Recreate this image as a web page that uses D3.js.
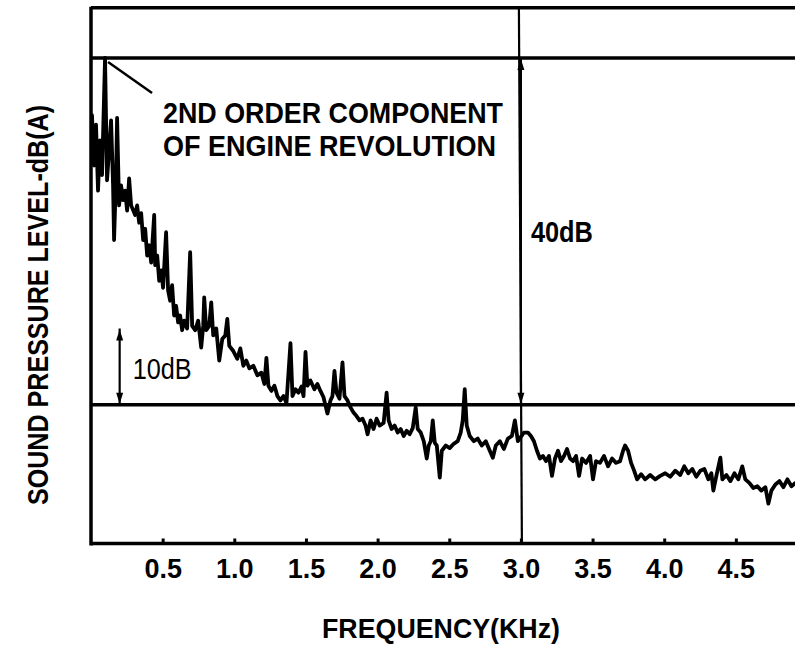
<!DOCTYPE html>
<html>
<head>
<meta charset="utf-8">
<script src="https://cdn.jsdelivr.net/npm/d3@7"></script>
<style>
  html, body { margin: 0; padding: 0; background: #ffffff; }
</style>
</head>
<body>
<div id="chart"></div>
<script>
// spectrum trace: frequency (kHz) and level (dB, relative to the 0 reference line)
const freqKHz = [
  0.007, 0.021, 0.035, 0.049, 0.063, 0.077, 0.098, 0.112, 0.126, 0.140,
  0.154, 0.161, 0.175, 0.182, 0.196, 0.210, 0.224, 0.238, 0.252, 0.266,
  0.280, 0.308, 0.322, 0.336, 0.350, 0.364, 0.378, 0.392, 0.406, 0.420,
  0.441, 0.448, 0.462, 0.476, 0.490, 0.503, 0.524, 0.538, 0.552, 0.566,
  0.580, 0.594, 0.608, 0.622, 0.636, 0.650, 0.671, 0.692, 0.706, 0.727,
  0.748, 0.769, 0.783, 0.790, 0.804, 0.825, 0.839, 0.853, 0.874, 0.895,
  0.916, 0.937, 0.951, 0.965, 0.993, 1.021, 1.042, 1.063, 1.084, 1.105,
  1.133, 1.161, 1.189, 1.210, 1.224, 1.238, 1.259, 1.280, 1.301, 1.322,
  1.343, 1.364, 1.392, 1.406, 1.427, 1.448, 1.469, 1.483, 1.497, 1.510,
  1.531, 1.559, 1.580, 1.601, 1.622, 1.650, 1.671, 1.685, 1.699, 1.713,
  1.734, 1.755, 1.769, 1.790, 1.811, 1.832, 1.853, 1.874, 1.895, 1.916,
  1.930, 1.951, 1.972, 1.993, 2.014, 2.042, 2.063, 2.077, 2.098, 2.119,
  2.140, 2.161, 2.182, 2.203, 2.224, 2.245, 2.266, 2.280, 2.301, 2.322,
  2.343, 2.357, 2.371, 2.385, 2.399, 2.413, 2.434, 2.448, 2.476, 2.503,
  2.531, 2.559, 2.580, 2.594, 2.608, 2.622, 2.643, 2.671, 2.699, 2.727,
  2.755, 2.783, 2.804, 2.825, 2.853, 2.881, 2.909, 2.937, 2.958, 2.979,
  3.000, 3.021, 3.049, 3.070, 3.091, 3.112, 3.133, 3.154, 3.175, 3.196,
  3.217, 3.238, 3.259, 3.280, 3.301, 3.322, 3.343, 3.364, 3.385, 3.406,
  3.427, 3.455, 3.483, 3.503, 3.524, 3.552, 3.580, 3.608, 3.636, 3.664,
  3.692, 3.713, 3.727, 3.748, 3.769, 3.790, 3.811, 3.839, 3.867, 3.902,
  3.937, 3.972, 4.007, 4.042, 4.077, 4.112, 4.140, 4.168, 4.196, 4.224,
  4.252, 4.280, 4.308, 4.329, 4.343, 4.364, 4.392, 4.406, 4.434, 4.462,
  4.490, 4.517, 4.545, 4.566, 4.594, 4.622, 4.650, 4.678, 4.706, 4.727,
  4.748, 4.776, 4.804, 4.832, 4.860, 4.888, 4.916
];
const levelDb = [
  33.4, 27.6, 32.3, 24.7, 30.5, 26.5, 40.0, 25.9, 29.4, 32.8,
  25.3, 19.0, 26.5, 33.1, 23.0, 25.3, 23.6, 24.7, 22.4, 26.1,
  23.0, 21.9, 23.0, 21.0, 22.1, 19.0, 20.3, 17.2, 18.4, 16.4,
  21.9, 16.1, 17.2, 14.3, 15.5, 13.5, 19.9, 13.2, 12.0, 13.8,
  10.3, 11.4, 9.5, 10.3, 8.6, 9.7, 8.8, 17.6, 9.1, 8.6,
  9.7, 6.6, 9.1, 12.4, 8.6, 9.1, 11.8, 8.0, 8.8, 5.1,
  7.6, 8.0, 9.9, 6.8, 6.2, 5.3, 6.5, 4.5, 5.1, 4.2,
  4.5, 3.4, 3.7, 2.4, 5.4, 2.2, 1.6, 2.2, 1.0, 0.5,
  1.0, 0.2, 7.1, 1.0, 1.8, 1.4, 2.1, 1.0, 6.1, 2.2,
  2.8, 1.8, 2.4, 1.6, 0.9, -1.0, 0.5, 1.0, 3.9, 1.4,
  0.7, 4.9, 1.0, 0.5, -0.3, -0.9, -1.3, -1.8, -1.6, -2.4,
  -3.4, -1.8, -2.8, -1.6, -2.4, -2.1, 1.4, -1.8, -2.8, -2.4,
  -3.2, -2.8, -3.6, -3.0, -3.4, -2.7, -0.3, -2.8, -3.2, -4.2,
  -6.2, -4.7, -4.2, -1.8, -4.4, -4.7, -8.4, -5.3, -4.7, -5.0,
  -4.5, -4.2, -3.2, -1.8, 1.8, -2.4, -3.6, -4.2, -3.9, -4.7,
  -4.2, -5.3, -6.1, -4.7, -4.2, -5.1, -3.9, -3.6, -1.8, -4.2,
  -3.7, -3.2, -3.2, -3.6, -4.2, -5.3, -6.2, -5.9, -6.5, -5.9,
  -8.2, -6.2, -5.3, -6.5, -5.9, -5.1, -6.2, -6.5, -5.9, -8.2,
  -6.2, -6.7, -5.9, -8.6, -6.5, -6.7, -5.9, -7.1, -6.2, -6.7,
  -6.5, -5.3, -4.7, -5.3, -6.7, -7.6, -8.6, -8.0, -8.6, -8.1,
  -8.6, -8.2, -7.9, -8.3, -7.6, -8.1, -7.1, -7.9, -7.4, -8.3,
  -7.6, -7.4, -8.6, -7.9, -9.9, -8.2, -6.1, -8.6, -8.1, -8.8,
  -7.9, -8.6, -7.1, -8.6, -9.0, -9.6, -9.4, -9.9, -9.5, -11.4,
  -9.9, -9.2, -8.8, -9.5, -8.6, -9.4, -9.0
];

const xTickValues = [0.5, 1.0, 1.5, 2.0, 2.5, 3.0, 3.5, 4.0, 4.5];
const xTickLabels = ["0.5", "1.0", "1.5", "2.0", "2.5", "3.0", "3.5", "4.0", "4.5"];

// reference lines (dB) and the marked frequency (kHz)
const refLevels = [0, 40];
const markFreq = 3.0;
// scale bars: [from dB, to dB] as drawn
const bar40 = [0, 40];
const bar10 = [0, 8.8];
const peakFreq = 0.098;   // 2nd order component
const topDb = 45.8;       // top edge of the frame

const width = 795;
const height = 648;

const svg = d3.select("#chart").append("svg")
  .attr("width", width)
  .attr("height", height)
  .style("font-family", "'Liberation Sans', Arial, sans-serif");

const x = d3.scaleLinear().domain([0, 5]).range([91, 91 + 143.3 * 5]);
const y = d3.scaleLinear().domain([-16, 40]).range([543.5, 58]);

const ink = "#000000";

// frame: top edge, left axis
svg.append("line")
  .attr("x1", x(0)).attr("x2", width)
  .attr("y1", y(topDb)).attr("y2", y(topDb))
  .attr("stroke", ink).attr("stroke-width", 3.5);

svg.append("line")
  .attr("x1", x(0)).attr("x2", x(0))
  .attr("y1", y(topDb) - 1).attr("y2", y(-16) + 2)
  .attr("stroke", ink).attr("stroke-width", 3.5);

// horizontal reference lines at 0 and 40 dB
svg.append("g")
  .selectAll("line")
  .data(refLevels)
  .join("line")
    .attr("x1", x(0)).attr("x2", width)
    .attr("y1", d => y(d)).attr("y2", d => y(d))
    .attr("stroke", ink)
    .attr("stroke-width", 3.5);

// vertical line at 3.0 kHz
svg.append("line")
  .attr("x1", x(markFreq) - 2).attr("x2", x(markFreq) + 1)
  .attr("y1", y(topDb)).attr("y2", y(-16))
  .attr("stroke", ink).attr("stroke-width", 2.2);

// bottom axis
const xAxis = d3.axisBottom(x)
  .tickValues(xTickValues)
  .tickFormat((d, i) => xTickLabels[i])
  .tickSizeInner(-5)
  .tickSizeOuter(0);

const gx = svg.append("g")
  .attr("transform", `translate(0,${y(-16)})`)
  .call(xAxis);

gx.select(".domain")
  .attr("d", `M${x(0)},0H${width}`)
  .attr("stroke", ink)
  .attr("stroke-width", 3.5);

gx.selectAll(".tick line")
  .attr("stroke", ink)
  .attr("stroke-width", 3)
  .attr("y1", 0);

gx.selectAll(".tick text")
  .attr("y", 34)
  .attr("dy", 0)
  .attr("fill", ink)
  .style("font-family", "'Liberation Sans', Arial, sans-serif")
  .style("font-size", "27px")
  .style("font-weight", "bold");

// spectrum line
const points = freqKHz.map((f, i) => [f, levelDb[i]]);

const line = d3.line()
  .x(d => x(d[0]))
  .y(d => y(d[1]));

svg.append("path")
  .datum(points)
  .attr("d", line)
  .attr("fill", "none")
  .attr("stroke", ink)
  .attr("stroke-width", 3.8)
  .attr("stroke-linejoin", "round")
  .attr("stroke-linecap", "round");

// scale bars with small arrow heads
function scaleBar(xPos, range) {
  const g = svg.append("g");
  const y0 = y(range[0]), y1 = y(range[1]);
  g.append("line")
    .attr("x1", xPos).attr("x2", xPos)
    .attr("y1", y0).attr("y2", y1)
    .attr("stroke", ink).attr("stroke-width", 2.2);
  // top head points up, bottom head points down
  g.append("path")
    .attr("d", `M${xPos},${y1 + 1}L${xPos - 3.5},${y1 + 12}L${xPos + 3.5},${y1 + 12}Z`)
    .attr("fill", ink);
  g.append("path")
    .attr("d", `M${xPos},${y0 - 1}L${xPos - 3.5},${y0 - 12}L${xPos + 3.5},${y0 - 12}Z`)
    .attr("fill", ink);
}
scaleBar(x(markFreq), bar40);
scaleBar(x(0.2), bar10);

svg.append("text")
  .attr("x", x(markFreq) + 10)
  .attr("y", y(20) + 11)
  .attr("textLength", 62)
  .attr("lengthAdjust", "spacingAndGlyphs")
  .style("font-size", "29px")
  .style("font-weight", "bold")
  .attr("fill", ink)
  .text("40dB");

svg.append("text")
  .attr("x", x(0.2) + 13)
  .attr("y", y(3.0))
  .attr("textLength", 59)
  .attr("lengthAdjust", "spacingAndGlyphs")
  .style("font-size", "29px")
  .attr("fill", ink)
  .text("10dB");

// annotation for the 2nd order component
svg.append("line")
  .attr("x1", x(peakFreq) + 3).attr("y1", y(40) + 4)
  .attr("x2", x(peakFreq) + 47).attr("y2", y(40) + 35)
  .attr("stroke", ink).attr("stroke-width", 2.5);

const note = svg.append("g")
  .style("font-size", "30px")
  .style("font-weight", "bold")
  .attr("fill", ink);

note.append("text")
  .attr("x", 163).attr("y", 123)
  .attr("textLength", 340)
  .attr("lengthAdjust", "spacingAndGlyphs")
  .text("2ND ORDER COMPONENT");

note.append("text")
  .attr("x", 163).attr("y", 156)
  .attr("textLength", 333)
  .attr("lengthAdjust", "spacingAndGlyphs")
  .text("OF ENGINE REVOLUTION");

// axis titles
svg.append("text")
  .attr("x", 441)
  .attr("y", 638)
  .attr("text-anchor", "middle")
  .attr("textLength", 238)
  .attr("lengthAdjust", "spacingAndGlyphs")
  .style("font-size", "27px")
  .style("font-weight", "bold")
  .attr("fill", ink)
  .text("FREQUENCY(KHz)");

svg.append("text")
  .attr("transform", "translate(48,305) rotate(-90)")
  .attr("text-anchor", "middle")
  .attr("textLength", 400)
  .attr("lengthAdjust", "spacingAndGlyphs")
  .style("font-size", "29px")
  .style("font-weight", "bold")
  .attr("fill", ink)
  .text("SOUND PRESSURE LEVEL-dB(A)");
</script>
</body>
</html>
